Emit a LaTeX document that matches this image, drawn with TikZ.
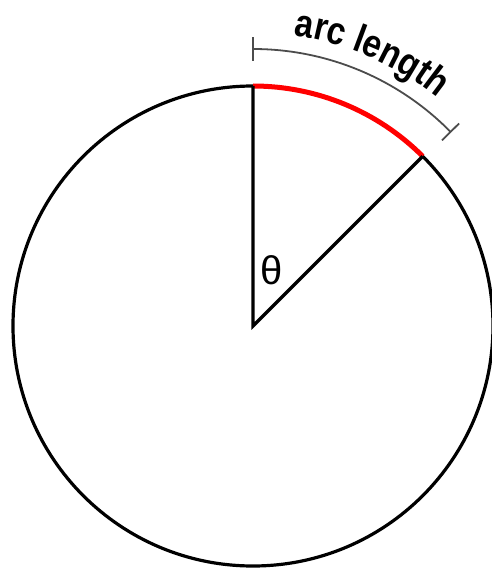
\documentclass[tikz,border=0pt]{standalone}
\usepackage{fontspec}
\newfontfamily\labelfont[FakeStretch=0.85]{Liberation Sans}
\newfontfamily\anglefont{Liberation Sans}
\usetikzlibrary{decorations.text}

\tikzset{
  radius line/.style={line width=3.2pt},
  arc mark/.style={red, line width=5pt},
  length arc/.style={black!70, line width=1.8pt},
}

\begin{document}
\begin{tikzpicture}[x=1pt,y=1pt]
    \useasboundingbox (-253,-245) rectangle (239,326);
    % circle and centre
    \coordinate (O) at (0,0);
    \coordinate (T) at (90:240pt);
    \coordinate (P) at (45:240pt);
    \draw[radius line] (O) circle[radius=240pt];
    % red arc between T and P
    \draw[arc mark] (T) arc[start angle=90, end angle=45, radius=240pt];
    % radii
    \draw[radius line, line join=miter] (T) -- (O) -- (P);
    \node[font=\anglefont\fontsize{40}{46}\selectfont, inner sep=0pt] (theta) at (19,56) {θ};
    % arc length bracket
    \coordinate (A1) at (90:277pt);
    \coordinate (A2) at (44.5:277pt);
    \draw[length arc] (A1) arc[start angle=90, end angle=44.5, radius=277pt];
    \draw[length arc] (90:265pt) -- (90:289pt);
    \draw[length arc] (44.5:265pt) -- (44.5:289pt);
    % label along the bracket
    \path[decorate,
        decoration={text along path, text align=center,
        text={|\labelfont\bfseries\fontsize{39}{45}\selectfont|arc length}}]
        (83:293pt) arc[start angle=83, end angle=50, radius=293pt];
\end{tikzpicture}
\end{document}
